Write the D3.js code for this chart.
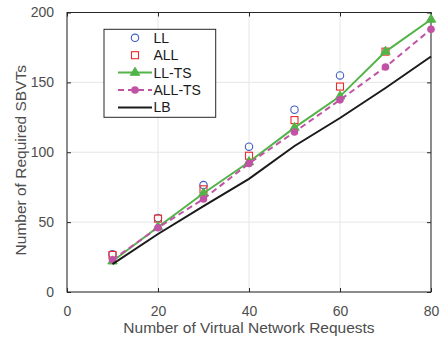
<!DOCTYPE html>
<html><head><meta charset="utf-8">
<script src="https://cdn.jsdelivr.net/npm/d3@7"></script>
<style>body{margin:0;background:#fff;}svg{display:block;font-family:"Liberation Sans",Arial,sans-serif;}</style>
</head><body><svg id="c" width="442" height="339"></svg>
<script>
const xValues = [10, 20, 30, 40, 50, 60, 70, 80];
const llValues = [27, 53, 76.5, 104, 130.5, 155];
const allValues = [26.5, 52.5, 73.5, 97.5, 123, 147, 172];
const llTsValues = [22, 46.5, 70.7, 93, 117.6, 140, 172, 195];
const allTsValues = [23, 46, 66.6, 92, 114.5, 137.5, 161, 188];
const lbValues = [20, 41.5, 61.4, 81, 104.5, 124.5, 146, 168.5];
const xTicks = [0, 20, 40, 60, 80];
const yTicks = [0, 50, 100, 150, 200];
const legendLabels = ["LL", "ALL", "LL-TS", "ALL-TS", "LB"];

const svg = d3.select("#c");
const L = 67, R = 431, T = 12.5, B = 292;
const x = d3.scaleLinear().domain([0, 80]).range([L, R]);
const y = d3.scaleLinear().domain([0, 200]).range([B, T]);
const axisCol = "#262626", textCol = "#4d4d4d";

// grid
const g = svg.append("g");
g.selectAll(".gx").data(xTicks).join("line").attr("x1", d => x(d)).attr("x2", d => x(d)).attr("y1", T).attr("y2", B).attr("stroke", "#e6e6e6").attr("stroke-width", 1);
g.selectAll(".gy").data(yTicks).join("line").attr("y1", d => y(d)).attr("y2", d => y(d)).attr("x1", L).attr("x2", R).attr("stroke", "#e6e6e6").attr("stroke-width", 1);

// axes (MATLAB style inner ticks on all sides)
const tl = 4;
const axB = d3.axisBottom(x).tickValues(xTicks).tickSize(-tl).tickPadding(10 + tl);
const axT = d3.axisTop(x).tickValues(xTicks).tickSize(-tl).tickFormat("");
const axLf = d3.axisLeft(y).tickValues(yTicks).tickSize(-tl).tickPadding(9 + tl);
const axRt = d3.axisRight(y).tickValues(yTicks).tickSize(-tl).tickFormat("");
function style(sel) {
  sel.selectAll("path").attr("stroke", axisCol).attr("stroke-width", 1);
  sel.selectAll("line").attr("stroke", axisCol);
  sel.selectAll("text").attr("fill", textCol).attr("font-size", 14).attr("font-family", "Liberation Sans, Arial, sans-serif");
}
style(svg.append("g").attr("transform", `translate(0,${B})`).call(axB));
style(svg.append("g").attr("transform", `translate(0,${T})`).call(axT));
style(svg.append("g").attr("transform", `translate(${L},0)`).call(axLf));
style(svg.append("g").attr("transform", `translate(${R},0)`).call(axRt));
svg.selectAll(".domain").attr("d", null);
svg.append("rect").attr("x", L).attr("y", T).attr("width", R - L).attr("height", B - T).attr("fill", "none").attr("stroke", axisCol).attr("stroke-width", 1);

// titles
svg.append("text").attr("x", (L + R) / 2).attr("y", 333).attr("text-anchor", "middle").attr("fill", textCol).attr("font-size", 15.5).text("Number of Virtual Network Requests");
svg.append("text").attr("transform", `translate(26,${(T + B) / 2 + 8}) rotate(-90)`).attr("text-anchor", "middle").attr("fill", textCol).attr("font-size", 15.5).text("Number of Required SBVTs");

const blue = "#3d5fc4", red = "#ee2a2a", green = "#52b448", magenta = "#c252a6", black = "#1a1a1a";
const pts = vals => vals.map((v, i) => [xValues[i], v]);
const line = d3.line().x(d => x(d[0])).y(d => y(d[1]));

// LL circles
svg.append("g").selectAll("circle").data(pts(llValues)).join("circle")
  .attr("cx", d => x(d[0])).attr("cy", d => y(d[1])).attr("r", 3.7)
  .attr("fill", "none").attr("stroke", blue).attr("stroke-width", 1.1);
// ALL squares
svg.append("g").selectAll("rect").data(pts(allValues)).join("rect")
  .attr("x", d => x(d[0]) - 3.5).attr("y", d => y(d[1]) - 3.5).attr("width", 7).attr("height", 7)
  .attr("fill", "none").attr("stroke", red).attr("stroke-width", 1.1);
// LL-TS
svg.append("path").datum(pts(llTsValues)).attr("d", line).attr("fill", "none").attr("stroke", green).attr("stroke-width", 2);
const tri = d3.symbol().type(d3.symbolTriangle).size(38);
svg.append("g").selectAll("path").data(pts(llTsValues)).join("path")
  .attr("transform", d => `translate(${x(d[0])},${y(d[1])})`).attr("d", tri)
  .attr("fill", green).attr("stroke", green).attr("stroke-width", 1);
// ALL-TS
svg.append("path").datum(pts(allTsValues)).attr("d", line).attr("fill", "none").attr("stroke", magenta).attr("stroke-width", 2).attr("stroke-dasharray", "6,4");
svg.append("g").selectAll("circle").data(pts(allTsValues)).join("circle")
  .attr("cx", d => x(d[0])).attr("cy", d => y(d[1])).attr("r", 3.8).attr("fill", magenta);
// LB
svg.append("path").datum(pts(lbValues)).attr("d", line).attr("fill", "none").attr("stroke", black).attr("stroke-width", 2);

// legend
const lg = svg.append("g");
lg.append("rect").attr("x", 104).attr("y", 29.3).attr("width", 111.7).attr("height", 88).attr("fill", "#fff").attr("stroke", "#262626").attr("stroke-width", 1);
const rowY = i => 37.8 + i * 17.4;
const lx1 = 118, lx2 = 152, mx = 135;
legendLabels.forEach((lab, i) => {
  const yy = rowY(i);
  lg.append("text").attr("x", 153.5).attr("y", yy + 5).attr("fill", "#1a1a1a").attr("font-size", 14).text(lab);
});
lg.append("circle").attr("cx", mx).attr("cy", rowY(0)).attr("r", 3.7).attr("fill", "none").attr("stroke", blue).attr("stroke-width", 1.1);
lg.append("rect").attr("x", mx - 3.5).attr("y", rowY(1) - 3.5).attr("width", 7).attr("height", 7).attr("fill", "none").attr("stroke", red).attr("stroke-width", 1.1);
lg.append("line").attr("x1", lx1).attr("x2", lx2).attr("y1", rowY(2)).attr("y2", rowY(2)).attr("stroke", green).attr("stroke-width", 2);
lg.append("path").attr("transform", `translate(${mx},${rowY(2)})`).attr("d", tri).attr("fill", green).attr("stroke", green);
lg.append("line").attr("x1", lx1).attr("x2", lx2).attr("y1", rowY(3)).attr("y2", rowY(3)).attr("stroke", magenta).attr("stroke-width", 2).attr("stroke-dasharray", "6,4");
lg.append("circle").attr("cx", mx).attr("cy", rowY(3)).attr("r", 3.8).attr("fill", magenta);
lg.append("line").attr("x1", lx1).attr("x2", lx2).attr("y1", rowY(4)).attr("y2", rowY(4)).attr("stroke", black).attr("stroke-width", 2);
</script></body></html>
